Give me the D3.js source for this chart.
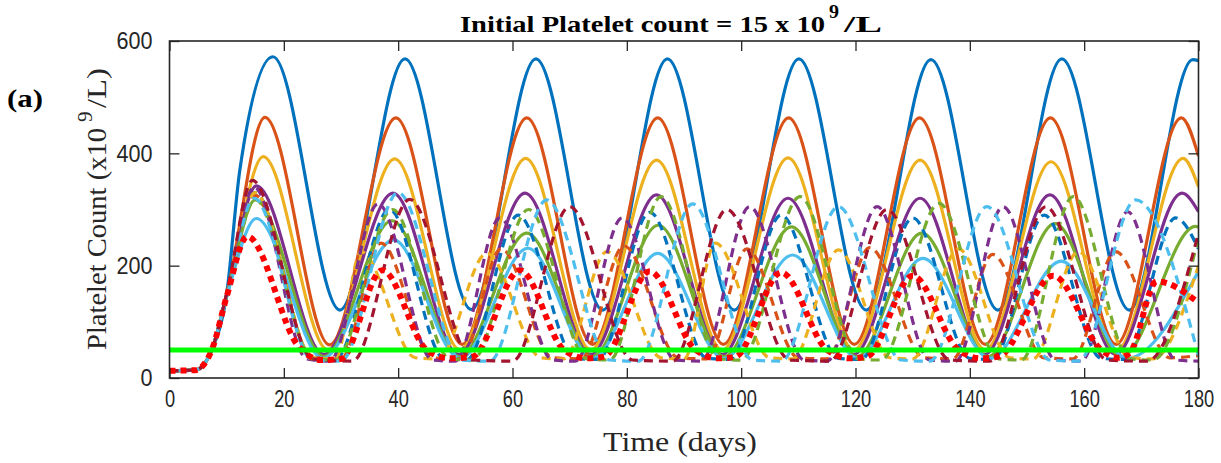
<!DOCTYPE html>
<html>
<head>
<meta charset="utf-8">
<script src="https://cdnjs.cloudflare.com/ajax/libs/d3/7.8.5/d3.min.js"></script>
<style>
  html, body { margin: 0; padding: 0; background: #ffffff; }
  svg { display: block; }
</style>
</head>
<body>
<svg id="chart" width="1221" height="463"></svg>
<script>
// Platelet count trajectories over 180 days, [day, count (x10^9/L)] pairs.
const solidBlue = [[0,13],[4.5,14],[7.4,50],[10,150],[12.3,370],[18.1,572],[29.8,121],[41.2,568],[52.8,122],[64.1,568],[75.8,121],[87.1,568],[98.8,121],[110.1,568],[121.9,121],[133.2,567],[144.9,121],[156.1,568],[167.9,121],[179,567],[180,565]];
const solidOrange = [[0,13],[4.5,14],[7.4,50],[10,148],[16.7,464],[28.0,59],[39.6,463],[51.2,60],[62.5,463],[74.0,60],[85.4,463],[96.9,60],[108.3,463],[119.8,60],[131.2,463],[142.7,60],[154.1,463],[165.6,60],[177.0,463],[180,395]];
const solidYellow = [[0,13],[4.5,14],[7.4,50],[10,147],[16.4,394],[27.7,50],[39.4,390],[50.8,50],[62.3,391],[73.7,50],[85.2,388],[96.7,50],[108.2,392],[119.7,50],[131.3,388],[142.7,50],[154.2,385],[165.7,50],[177.3,391],[180,340]];
const solidPurple = [[0,13],[4.5,14],[7.4,50],[10,146],[15.2,342],[27.0,42],[39.1,329],[50.6,42],[62.2,329],[73.7,42],[85.2,326],[96.7,42],[108.2,320],[119.7,42],[131.3,320],[142.6,42],[154.0,326],[165.5,42],[177.1,329],[180,296]];
const solidGreen = [[0,13],[4.5,14],[7.4,50],[10,146],[15.0,317],[27.0,38],[38.9,280],[50.7,38],[62.5,258],[74.0,38],[85.5,272],[97.0,38],[108.8,269],[120.2,38],[131.6,258],[143.2,38],[154.9,275],[166.5,38],[179.5,270],[180,269]];
const solidCyan = [[0,13],[4.5,14],[7.4,50],[10,145],[15.2,284],[26.8,35],[39.2,246],[50.8,35],[62.7,231],[74.0,35],[85.4,222],[97.0,35],[109.0,219],[120.4,35],[131.8,213],[143.5,35],[156.0,208],[167.5,35],[180,190]];

const dashMaroon = [[0,13],[4.5,14],[7.4,50],[10,150],[14.5,352],[25,34],[32,30],[42,318],[53,32],[60,30],[70,305],[81,32],[88,30],[97.5,300],[108.5,32],[115.5,30],[125.5,300],[136.5,32],[143.5,30],[153.3,305],[164,32],[171,30],[180,258]];
const dashPurple = [[0,13],[4.5,14],[7.4,50],[10,148],[14.8,340],[24,34],[28,30],[36.5,310],[46,32],[50,30],[57.8,285],[67,32],[71,30],[79.2,285],[88.5,32],[93,30],[101.5,305],[111,32],[115,30],[123.8,305],[133,32],[137.5,30],[145.8,305],[155,32],[159.5,30],[167.6,296],[176,32],[180,30]];
const dashCyan = [[0,13],[4.5,14],[7.4,50],[10,146],[14.8,320],[25,32],[30,30],[40,330],[51,32],[56,30],[66,317],[77,32],[82,30],[91.5,310],[102,32],[107,30],[117,305],[128,32],[133,30],[143,305],[154,32],[159,30],[169,317],[180,40]];
const dashGreen = [[0,13],[4.5,14],[7.4,50],[10,146],[15,318],[25,34],[29,32],[39,300],[49,34],[53,32],[62.8,300],[73,34],[77,32],[86,323],[96,34],[100,32],[110.3,323],[120.5,34],[124.5,32],[134.6,311],[145,34],[149,32],[158.1,323],[168,34],[172,32],[180,250]];
const dashYellow = [[0,13],[4.5,14],[7.4,50],[10,147],[15,330],[25,36],[29,34],[33.5,225],[43,36],[47,34],[55.5,222],[65,36],[69,34],[76.5,225],[86,36],[90,34],[95.5,240],[105,36],[109,34],[117,228],[126,36],[130,34],[138,230],[147,36],[151,34],[159,225],[168,36],[172,34],[180,200]];
const dashOrange = [[0,13],[4.5,14],[7.4,50],[10,147],[15,325],[25,36],[30,34],[37,240],[46,36],[51,34],[58,230],[67,36],[72,34],[79.5,235],[89,36],[94,34],[101,230],[110,36],[115,34],[122.5,232],[132,36],[137,34],[144,220],[153,36],[158,34],[165.5,225],[175,36],[180,40]];
const dashBlue = [[0,13],[4.5,14],[7.4,50],[10,148],[15,330],[25,35],[29,33],[38.5,300],[48,35],[52,33],[61,290],[71,35],[75,33],[84,295],[94,35],[98,33],[107,290],[117,35],[121,33],[130,285],[140,35],[144,33],[153,290],[163,35],[167,33],[176,285],[180,230]];
const dottedRed = [[0,13],[4.5,14],[7.4,50],[10,145],[13.6,252],[22.6,56],[26.5,32],[30,34],[37.2,192],[45,50],[49,35],[53,38],[61.3,192],[69,50],[73,35],[76,38],[84,190],[92,50],[96,35],[99,38],[107,188],[115,50],[119,35],[122,38],[130,182],[138,50],[142,35],[145,38],[154.6,182],[163,50],[166,36],[168,45],[172.7,172],[180,134]];

const plateletThreshold = 50;

const xTicks = [0, 20, 40, 60, 80, 100, 120, 140, 160, 180];
const yTicks = [0, 200, 400, 600];

// Draw order and line styles for each trajectory
const layers = [
  { data: solidBlue,   color: "#0072BD", dash: null },
  { data: solidOrange, color: "#D95319", dash: null },
  { data: solidYellow, color: "#EDB120", dash: null },
  { data: solidPurple, color: "#7E2F8E", dash: null },
  { data: solidGreen,  color: "#77AC30", dash: null },
  { data: solidCyan,   color: "#4DBEEE", dash: null },
  { data: dashBlue,    color: "#0072BD", dash: "9,6" },
  { data: dashOrange,  color: "#D95319", dash: "9,6" },
  { data: dashYellow,  color: "#EDB120", dash: "9,6" },
  { data: dashPurple,  color: "#7E2F8E", dash: "9,6" },
  { data: dashGreen,   color: "#77AC30", dash: "9,6" },
  { data: dashCyan,    color: "#4DBEEE", dash: "9,6" },
  { data: dashMaroon,  color: "#A2142F", dash: "9,6" },
];

const svg = d3.select("#chart");
const margin = { left: 169.5, right: 1198.5, top: 41, bottom: 378 };

const x = d3.scaleLinear().domain([0, 180]).range([margin.left, margin.right]);
const y = d3.scaleLinear().domain([0, 600]).range([margin.bottom, margin.top]);

const plot = svg.append("g");
plot.append("clipPath").attr("id", "plotClip")
  .append("rect")
  .attr("x", margin.left).attr("y", margin.top)
  .attr("width", margin.right - margin.left)
  .attr("height", margin.bottom - margin.top);

const line = d3.line()
  .x(d => x(d[0]))
  .y(d => y(d[1]))
  .curve(d3.curveMonotoneX);

const curves = plot.append("g").attr("clip-path", "url(#plotClip)");

layers.forEach(l => {
  curves.append("path")
    .attr("d", line(l.data))
    .attr("fill", "none")
    .attr("stroke", l.color)
    .attr("stroke-width", 3.2)
    .attr("stroke-dasharray", l.dash);
});

curves.append("path")
  .attr("d", line(dottedRed))
  .attr("fill", "none")
  .attr("stroke", "#FF0000")
  .attr("stroke-width", 6)
  .attr("stroke-dasharray", "6,5");

curves.append("path")
  .attr("d", line([[0, plateletThreshold], [180, plateletThreshold]]))
  .attr("fill", "none")
  .attr("stroke", "#00FF00")
  .attr("stroke-width", 5);

// Axes box with inward ticks on all four sides
const axisColor = "#262626";
const tickLen = 10;
const tickFont = "'Liberation Sans', Arial, sans-serif";

const axB = d3.axisBottom(x).tickValues(xTicks).tickSizeInner(-tickLen).tickSizeOuter(0).tickPadding(12);
const axT = d3.axisTop(x).tickValues(xTicks).tickSizeInner(-tickLen).tickSizeOuter(0).tickFormat("");
const axL = d3.axisLeft(y).tickValues(yTicks).tickSizeInner(-tickLen).tickSizeOuter(0).tickPadding(17);
const axR = d3.axisRight(y).tickValues(yTicks).tickSizeInner(-tickLen).tickSizeOuter(0).tickFormat("");

function styleTicks(g) {
  g.select(".domain").remove();
  g.selectAll(".tick line").attr("stroke", axisColor).attr("stroke-width", 1.3);
  g.selectAll(".tick text")
    .attr("fill", "#262626")
    .style("font-family", tickFont)
    .style("font-size", "24px");
}

// Bottom labels: narrow digits via a horizontal squeeze around each tick
svg.append("g").attr("transform", `translate(0,${margin.bottom})`).call(axB).call(styleTicks)
  .selectAll(".tick text").attr("transform", "scale(0.76,1)");
svg.append("g").attr("transform", `translate(0,${margin.top})`).call(axT).call(styleTicks);
svg.append("g").attr("transform", `translate(${margin.left},0)`).call(axL).call(styleTicks)
  .selectAll(".tick text")
  .attr("lengthAdjust", "spacingAndGlyphs")
  .attr("textLength", function() { return this.textContent.length * 12; });
svg.append("g").attr("transform", `translate(${margin.right},0)`).call(axR).call(styleTicks);

svg.append("rect")
  .attr("x", margin.left).attr("y", margin.top)
  .attr("width", margin.right - margin.left)
  .attr("height", margin.bottom - margin.top)
  .attr("fill", "none")
  .attr("stroke", axisColor)
  .attr("stroke-width", 1.6);

// Titles and labels
const serif = "'Liberation Serif', 'Times New Roman', serif";

function label(xPos, yPos, str, size, weight, width, color) {
  return svg.append("text")
    .attr("x", xPos).attr("y", yPos)
    .style("font-family", serif).style("font-weight", weight).style("font-size", size + "px")
    .attr("fill", color)
    .attr("lengthAdjust", "spacingAndGlyphs")
    .attr("textLength", width)
    .text(str);
}

label(460, 32, "Initial Platelet count = 15 x 10", 23, "bold", 365, "#000");
label(829, 18, "9", 19, "bold", 10, "#000");
label(844, 32, "/L", 23, "bold", 38, "#000");

label(7, 107, "(a)", 25, "bold", 36, "#000");

// Rotated y-axis label
const ylab = svg.append("g").attr("transform", "translate(106,350) rotate(-90)");
ylab.append("text")
  .style("font-family", serif).style("font-size", "27px").attr("fill", "#262626")
  .attr("lengthAdjust", "spacingAndGlyphs").attr("textLength", 222)
  .text("Platelet Count (x10");
ylab.append("text")
  .attr("x", 228).attr("y", -14)
  .style("font-family", serif).style("font-size", "21px").attr("fill", "#262626")
  .text("9");
ylab.append("text")
  .attr("x", 242)
  .style("font-family", serif).style("font-size", "27px").attr("fill", "#262626")
  .attr("lengthAdjust", "spacingAndGlyphs").attr("textLength", 40)
  .text("/L)");

label(603, 451, "Time (days)", 28, "normal", 154, "#262626");
</script>
</body>
</html>
